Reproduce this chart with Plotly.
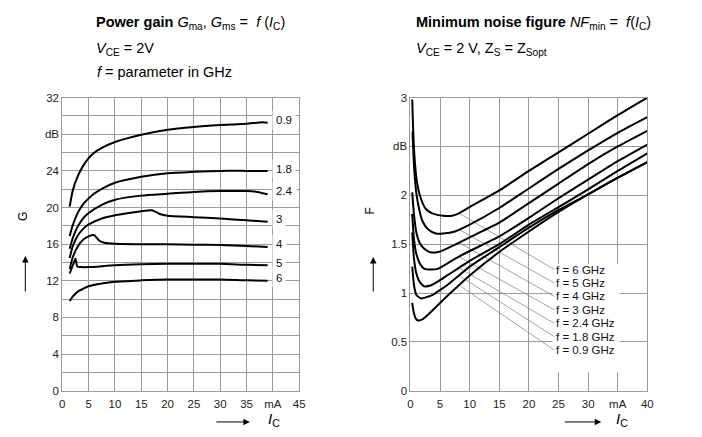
import numpy as np
import plotly.graph_objects as go

# ---------------- Left chart: power gain G vs Ic ----------------
g_freq_labels = ["0.9", "1.8", "2.4", "3", "4", "5", "6"]
g_label_y = [29.5, 24.2, 21.8, 18.7, 16.0, 13.95, 12.3]

g_x_09 = [1.4, 2, 3, 4, 5, 6, 7.5, 10, 15, 20, 25, 30, 35, 38, 39]
g_y_09 = [20.1, 21.9, 23.5, 24.6, 25.4, 25.95, 26.5, 27.15, 27.95, 28.5, 28.8, 29.0, 29.15, 29.3, 29.25]
g_x_18 = [1.4, 2, 3, 4, 5, 6, 7.5, 10, 15, 20, 25, 30, 35, 39]
g_y_18 = [16.9, 18.1, 19.5, 20.4, 21.0, 21.5, 22.05, 22.7, 23.35, 23.75, 23.9, 24.0, 24.0, 24.0]
g_x_24 = [1.4, 2, 3, 4, 5, 7.5, 10, 15, 20, 25, 30, 35, 36.5, 39]
g_y_24 = [15.5, 16.7, 18.0, 18.85, 19.4, 20.3, 20.85, 21.3, 21.5, 21.7, 21.8, 21.8, 21.75, 21.45]
g_x_3 = [1.4, 2, 3, 4, 5, 7.5, 10, 15, 17, 18.5, 20, 25, 30, 35, 39]
g_y_3 = [14.5, 15.8, 17.0, 17.7, 18.15, 18.8, 19.15, 19.6, 19.7, 19.3, 19.1, 18.95, 18.8, 18.6, 18.45]
g_x_4 = [1.4, 2, 3, 4, 5, 6, 7, 8, 10, 15, 20, 25, 30, 35, 39]
g_y_4 = [13.3, 14.6, 15.8, 16.5, 16.85, 17.0, 16.4, 16.15, 16.05, 16.0, 16.0, 15.95, 15.9, 15.8, 15.7]
g_x_5 = [1.4, 2, 2.5, 2.85, 3.5, 5, 10, 15, 20, 25, 30, 35, 39]
g_y_5 = [12.8, 13.7, 14.4, 13.55, 13.5, 13.5, 13.7, 13.8, 13.85, 13.85, 13.85, 13.75, 13.7]
g_x_6 = [1.4, 2, 3, 4, 5, 7.5, 10, 15, 20, 25, 30, 35, 39]
g_y_6 = [9.8, 10.3, 10.85, 11.15, 11.4, 11.7, 11.9, 12.05, 12.15, 12.15, 12.15, 12.05, 12.0]

g_xticks = [0, 5, 10, 15, 20, 25, 30, 35, 40, 45]
g_xticktext = ["0", "5", "10", "15", "20", "25", "30", "35", "mA", "45"]
g_yticks = [0, 4, 8, 12, 16, 20, 24, 28, 32]
g_yticktext = ["0", "4", "8", "12", "16", "20", "24", "dB", "32"]

# ---------------- Right chart: NFmin vs Ic ----------------
nf_freq_labels = ["f = 6 GHz", "f = 5 GHz", "f = 4 GHz", "f = 3 GHz",
                  "f = 2.4 GHz", "f = 1.8 GHz", "f = 0.9 GHz"]
nf_label_y = [1.24, 1.1025, 0.965, 0.8275, 0.69, 0.5525, 0.415]

nf_x_6 = [0.3, 0.5, 0.8, 1.2, 1.8, 2.6, 3.5, 4.5, 5.5, 7, 8, 10, 15, 20, 25, 30, 35, 40]
nf_y_6 = [2.98, 2.6, 2.3, 2.1, 1.96, 1.86, 1.82, 1.80, 1.79, 1.79, 1.81, 1.88, 2.05, 2.25, 2.44, 2.63, 2.82, 3.0]
nf_x_5 = [0.35, 0.6, 1.0, 1.5, 2.0, 3.0, 4.3, 5.5, 7.5, 10, 15, 20, 25, 30, 35, 40]
nf_y_5 = [2.65, 2.3, 2.02, 1.85, 1.74, 1.65, 1.61, 1.61, 1.63, 1.70, 1.87, 2.07, 2.27, 2.46, 2.64, 2.80]
nf_x_4 = [0.3, 0.6, 1.0, 1.5, 2.2, 3.2, 4.7, 7, 10, 15, 20, 25, 30, 35, 40]
nf_y_4 = [2.03, 1.8, 1.62, 1.52, 1.46, 1.42, 1.42, 1.48, 1.57, 1.72, 1.92, 2.12, 2.32, 2.50, 2.66]
nf_x_3 = [0.3, 0.6, 1.0, 1.6, 2.3, 3.5, 4.7, 7.5, 10, 15, 20, 25, 30, 35, 40]
nf_y_3 = [1.81, 1.55, 1.40, 1.30, 1.25, 1.24, 1.25, 1.35, 1.43, 1.58, 1.77, 1.97, 2.16, 2.35, 2.52]
nf_x_24 = [0.3, 0.6, 1.0, 1.5, 2.3, 3.5, 4.7, 6.2, 8, 10, 15, 20, 25, 30, 35, 40]
nf_y_24 = [1.62, 1.35, 1.20, 1.12, 1.07, 1.08, 1.12, 1.18, 1.25, 1.33, 1.50, 1.70, 1.88, 2.06, 2.25, 2.43]
nf_x_18 = [0.3, 0.6, 1.0, 1.8, 2.8, 4.0, 4.7, 6.2, 8, 10, 15, 20, 25, 30, 35, 40]
nf_y_18 = [1.27, 1.08, 0.98, 0.945, 0.96, 0.99, 1.02, 1.08, 1.17, 1.27, 1.47, 1.67, 1.85, 2.01, 2.18, 2.34]
nf_x_09 = [0.3, 0.6, 1.0, 1.4, 2.0, 3.0, 4.7, 6.2, 8, 10, 15, 20, 25, 30, 35, 40]
nf_y_09 = [0.90, 0.79, 0.73, 0.72, 0.73, 0.78, 0.88, 0.97, 1.07, 1.18, 1.42, 1.63, 1.83, 2.01, 2.18, 2.34]

nf_xticks = [0, 5, 10, 15, 20, 25, 30, 35, 40]
nf_xticktext = ["0", "5", "10", "15", "20", "25", "30", "mA", "40"]
nf_yticks = [0, 0.5, 1, 1.5, 2, 2.5, 3]
nf_yticktext = ["0", "0.5", "1", "1.5", "2", "dB", "3"]

leader_start_x = 8.2
label_x = 24.3

# ---------------------------------------------------------------
# page has an 8px body margin, so the figure is offset by 8px
OFF = 8
W, H = 702 - OFF, 437 - OFF
FONT = "Liberation Sans, Arial, sans-serif"
GRID = "#9a9a9a"

def px(x):
    return (x - OFF) / W

def py(y):
    return 1 - (y - OFF) / H

fig = go.Figure()

g_curves = [(g_x_09, g_y_09), (g_x_18, g_y_18), (g_x_24, g_y_24), (g_x_3, g_y_3),
            (g_x_4, g_y_4), (g_x_5, g_y_5), (g_x_6, g_y_6)]
for xs, ys in g_curves:
    fig.add_trace(go.Scatter(x=xs, y=ys, mode="lines", xaxis="x", yaxis="y",
                             line=dict(color="black", width=2, shape="spline", smoothing=0.6),
                             hoverinfo="skip", showlegend=False))

nf_curves = [(nf_x_6, nf_y_6), (nf_x_5, nf_y_5), (nf_x_4, nf_y_4), (nf_x_3, nf_y_3),
             (nf_x_24, nf_y_24), (nf_x_18, nf_y_18), (nf_x_09, nf_y_09)]

# leader lines
for (xs, ys), ly in zip(nf_curves, nf_label_y):
    y0 = float(np.interp(leader_start_x, xs, ys))
    fig.add_trace(go.Scatter(x=[leader_start_x, label_x], y=[y0, ly], mode="lines",
                             xaxis="x2", yaxis="y2",
                             line=dict(color="#8c8c8c", width=0.8),
                             hoverinfo="skip", showlegend=False))

for xs, ys in nf_curves:
    fig.add_trace(go.Scatter(x=xs, y=ys, mode="lines", xaxis="x2", yaxis="y2",
                             line=dict(color="black", width=2, shape="spline", smoothing=0.6),
                             hoverinfo="skip", showlegend=False))

ydom = [py(395.6), py(94)]
axis_common = dict(showgrid=True, gridcolor=GRID, gridwidth=1, zeroline=False,
                   showline=True, linecolor=GRID, linewidth=1, mirror=True,
                   ticks="", tickfont=dict(family=FONT, size=11.5, color="#222"))

fig.update_layout(
    width=W, height=H, margin=dict(l=0, r=0, t=0, b=0),
    paper_bgcolor="white", plot_bgcolor="white",
    font=dict(family=FONT, color="black"),
    xaxis=dict(domain=[px(60), px(300)], range=[0, 45], anchor="y",
               tickvals=g_xticks, ticktext=g_xticktext, ticklabelstandoff=2, **axis_common),
    yaxis=dict(domain=ydom, range=[0, 32], anchor="x",
               tickvals=g_yticks, ticktext=g_yticktext,
               minor=dict(dtick=2, tick0=0, showgrid=True, gridcolor=GRID, gridwidth=1, ticks=""),
               **axis_common),
    xaxis2=dict(domain=[px(412.7), px(652.7)], range=[0, 40], anchor="y2",
                tickvals=nf_xticks, ticktext=nf_xticktext, ticklabelstandoff=2, **axis_common),
    yaxis2=dict(domain=ydom, range=[0, 3], anchor="x2",
                tickvals=nf_yticks, ticktext=nf_yticktext, **axis_common),
)

# white box behind right labels
fig.add_shape(type="rect", xref="x2", yref="y2", x0=24.0, x1=35.3, y0=0.19, y1=1.3,
              fillcolor="white", line=dict(width=0), layer="between")

ann = []
# left curve labels
for t, yv in zip(g_freq_labels, g_label_y):
    ann.append(dict(x=39.85, y=yv, xref="x", yref="y", text=t, showarrow=False,
                    xanchor="left", yanchor="middle", bgcolor="white", borderpad=3,
                    font=dict(family=FONT, size=11.5, color="#111")))
# right labels
for t, yv in zip(nf_freq_labels, nf_label_y):
    ann.append(dict(x=label_x, y=yv, xref="x2", yref="y2", text=t, showarrow=False,
                    xanchor="left", yanchor="middle",
                    font=dict(family=FONT, size=11.5, color="#111")))

# titles
title_font = dict(family=FONT, size=14.5, color="black")
ann += [
    dict(x=px(92), y=py(17), xref="paper", yref="paper", xanchor="left", yanchor="middle",
         showarrow=False, font=title_font,
         text="<b>Power gain</b> <i>G</i><sub>ma</sub>, <i>G</i><sub>ms</sub> =  <i>f</i> (<i>I</i><sub>C</sub>)"),
    dict(x=px(92), y=py(44), xref="paper", yref="paper", xanchor="left", yanchor="middle",
         showarrow=False, font=title_font, text="<i>V</i><sub>CE</sub> = 2V"),
    dict(x=px(93), y=py(68), xref="paper", yref="paper", xanchor="left", yanchor="middle",
         showarrow=False, font=title_font, text="<i>f</i> = parameter in GHz"),
    dict(x=px(416), y=py(17), xref="paper", yref="paper", xanchor="left", yanchor="middle",
         showarrow=False, font=title_font,
         text="<b>Minimum noise figure</b> <i>NF</i><sub>min</sub> =  <i>f</i>(<i>I</i><sub>C</sub>)"),
    dict(x=px(416), y=py(44), xref="paper", yref="paper", xanchor="left", yanchor="middle",
         showarrow=False, font=title_font,
         text="<i>V</i><sub>CE</sub> = 2 V, Z<sub>S</sub> = Z<sub>Sopt</sub>"),
]

# axis titles
axt = dict(xref="paper", yref="paper", showarrow=False, xanchor="center", yanchor="middle")
ann += [
    dict(x=px(20), y=py(216), text="G", textangle=-90,
         font=dict(family=FONT, size=12, color="black"), **axt),
    dict(x=px(372), y=py(211), text="F", textangle=-90,
         font=dict(family=FONT, size=12, color="black"), **axt),
    dict(x=px(274), y=py(425), text="<i>I</i><sub>C</sub>",
         font=dict(family=FONT, size=15, color="black"), **axt),
    dict(x=px(627), y=py(425), text="<i>I</i><sub>C</sub>",
         font=dict(family=FONT, size=15, color="black"), **axt),
]

# arrows
arrow_common = dict(xref="paper", yref="paper", text="", showarrow=True, arrowhead=2,
                    arrowsize=1.3, arrowwidth=1, arrowcolor="black")
ann += [
    dict(x=px(22.5), y=py(257), ax=0, ay=37, **arrow_common),
    dict(x=px(250), y=py(427.7), ax=-35, ay=0, **arrow_common),
    dict(x=px(375), y=py(258), ax=0, ay=36, **arrow_common),
    dict(x=px(606), y=py(427.7), ax=-38, ay=0, **arrow_common),
]

fig.update_layout(annotations=ann)
fig.write_html("out.html")
